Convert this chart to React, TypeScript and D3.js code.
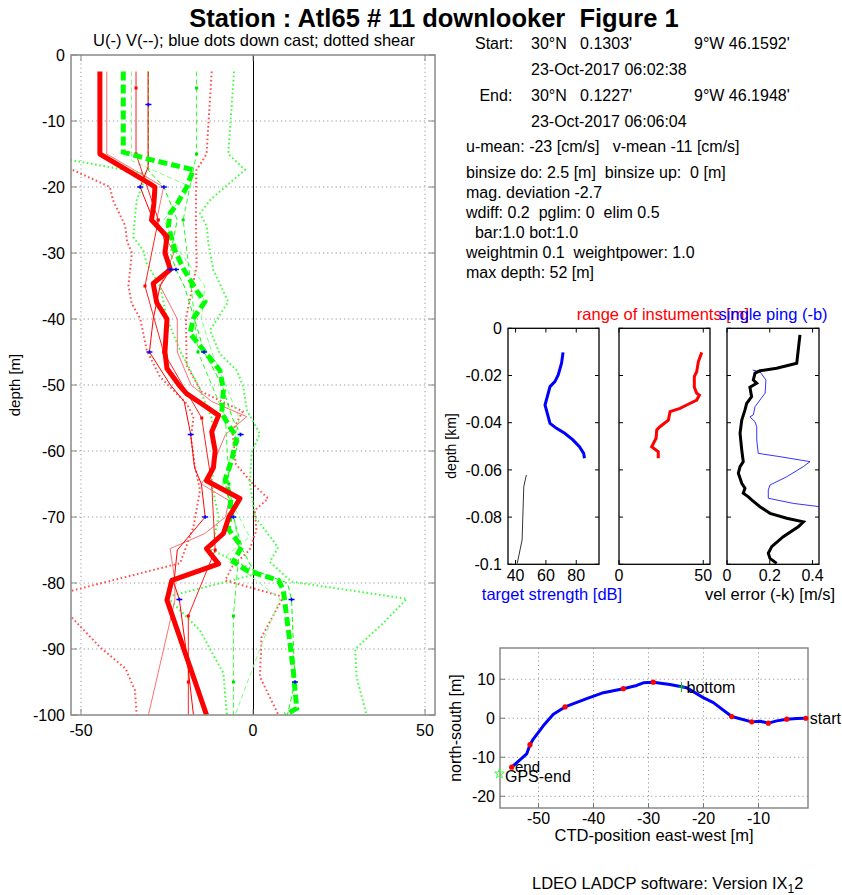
import React from "react";
import * as d3 from "d3";

type P = [number, number];

const FONT = "'Liberation Sans', Arial, Helvetica, sans-serif";

// ---- main profile panel: [depth m, velocity cm/s] ----
const uMean: P[] = [
  [-2.5, -44.5], [-15, -44.5], [-19.5, -30], [-20, -28.5], [-22.5, -28.8], [-25, -29.5],
  [-27.5, -25], [-30, -25.6], [-32.5, -24], [-34.6, -29], [-37.5, -28], [-40, -25],
  [-42.5, -25.3], [-45, -25.6], [-47.5, -25], [-50, -21.5], [-51.3, -19.3], [-53, -14.5],
  [-54.6, -10], [-57.1, -12], [-60, -11], [-62.5, -11.5], [-64.5, -13.5], [-67.2, -3.8],
  [-70, -7], [-72.5, -8.6], [-74.8, -13.5], [-77.1, -10], [-79.6, -23.6], [-82.6, -25],
  [-100, -13.5],
];
const vMean: P[] = [
  [-2.5, -37.7], [-14.7, -37.7], [-15.7, -31], [-17.4, -17.3], [-20, -19.3], [-22.5, -22],
  [-24, -24.1], [-26, -24.6], [-29.6, -22.7], [-32.4, -20.2], [-35.7, -16.4], [-37.4, -14],
  [-39.9, -17.3], [-42.2, -18.3], [-44.7, -14.4], [-47.8, -9.6], [-50.8, -8.6], [-54.3, -9.1],
  [-56.4, -6.7], [-57.9, -4.7], [-61.4, -6.2], [-64.4, -8.1], [-67.2, -6.5], [-70, -6.7],
  [-71.8, -7.2], [-74.5, -3.3], [-76.8, -5.7], [-78.1, -1.8], [-79.6, 7.4], [-81.1, 8.8],
  [-87.2, 10.3], [-93.2, 11.7], [-99, 12.7], [-100, 9.3],
];
const uDown: P[] = [
  [-2.5, -30.5], [-17, -30.5], [-20, -32.8], [-25, -29], [-27.5, -26], [-32.5, -24],
  [-35, -27], [-40, -29], [-45, -30.1], [-50, -24], [-52.5, -20], [-57.5, -18.1],
  [-62.5, -17], [-65, -15], [-70, -13.9], [-75, -22], [-80, -23], [-82.5, -21.4],
  [-90, -19.5], [-100, -17.3],
];
const vDown: P[] = [
  [-2.5, -30.4], [-7.5, -30.4], [-17.5, -30.4], [-20, -25.9], [-25, -22], [-30, -24],
  [-32.5, -22.4], [-35, -20], [-40, -17], [-45, -14.2], [-50, -9], [-55, -6], [-57.5, -3.6],
  [-60, -5], [-65, -8], [-70, -5.7], [-75, -3], [-78, 0], [-80, 10], [-82.5, 11.2],
  [-95, 12.2], [-100, 10],
];
const uUp: P[] = [
  [-2.5, -42.5], [-15, -42.5], [-20, -26], [-25, -28], [-30, -23], [-35, -27], [-40, -22],
  [-45, -22], [-50, -18], [-52.5, -12], [-54.8, -1.8], [-57.5, -8], [-62.5, -12], [-65, -15],
  [-67.5, -7], [-70, -8], [-72.5, -14], [-74.8, -24.1], [-79.6, -22.7], [-82.6, -22.7],
  [-100, -30.4],
];
const vUp: P[] = [
  [-2.5, -35.3], [-16, -35.3], [-20, -18], [-25, -26], [-30, -21], [-35, -14], [-40, -15],
  [-45, -12], [-50, -8], [-55, -4], [-60, -6], [-65, -9], [-70, -4], [-73, -1], [-76, -8],
  [-82.4, 7.8], [-90, 2], [-100, -5.2],
];
// bottom-track style profiles, one marker every 10 m
const uBT: P[] = [
  [-2.5, -34], [-5, -34], [-15, -34], [-25, -27.5], [-35, -31.4], [-45, -26], [-55, -14.9],
  [-65, -12], [-75, -11], [-85, -18.8], [-95, -18.8], [-100, -18.8],
];
const vBT: P[] = [
  [-2.5, -16.4], [-5, -16.4], [-15, -16.4], [-25, -20.3], [-35, -18], [-45, -16], [-55, -8],
  [-65, -7], [-75, -4], [-85, -5.7], [-95, -5.7], [-100, -5.7],
];
// shear solutions (dotted)
const uShA: P[] = [
  [-2.5, -12], [-15, -13.5], [-17.5, -16.5], [-25, -16.6], [-32, -16.4], [-40, -19.5],
  [-47, -19.3], [-51, -15], [-54, -3], [-57, -6], [-62, -5], [-65, 0], [-67.2, 4.4],
  [-69, 0.5], [-72, 1], [-75, -1], [-77.5, -6], [-79.6, -8.1], [-82.1, 8.8], [-88.2, 2.5],
  [-94.2, 2], [-100, 7.4],
];
const uShB: P[] = [
  [-2.5, -75], [-15, -70], [-17.3, -52.9], [-20, -41.6], [-22, -40.7], [-25.8, -37.2],
  [-28.2, -36.6], [-30, -35.2], [-34.9, -36.2], [-37.6, -35.3], [-39.9, -32.8], [-44.7, -30.9],
  [-48.8, -27], [-52.8, -19.3], [-54.8, -17.3], [-58, -18], [-62, -17], [-65.9, -15.4],
  [-71.5, -17.3], [-77, -21.2], [-81.1, -52.2], [-83, -62], [-85.2, -52.7], [-89.7, -44.5],
  [-93, -37], [-96.3, -34.3], [-100, -33.8],
];
const vShA: P[] = [
  [-2.5, -5.5], [-15, -7.2], [-17.4, -2.3], [-20, -8.1], [-22, -12.5], [-24, -15.4],
  [-26, -13.4], [-28.5, -13], [-32.6, -11.5], [-37.4, -7.2], [-41.7, -12.5], [-45.3, -9.6],
  [-47.8, -4.7], [-50.3, -2.8], [-53.8, -1.8], [-57.4, 2], [-60.2, -0.4], [-64.9, -0.9],
  [-70, 0.6], [-74.6, 7.3], [-76.8, 4.9], [-79.8, 11.2], [-82.4, 44.7], [-86, 38],
  [-90, 29.7], [-94.2, 30.1], [-100, 33],
];
const vShB: P[] = [
  [-2.5, -80], [-14, -70], [-16, -52.2], [-18, -30.9], [-22, -33.8], [-24.5, -34.3],
  [-27.6, -34.8], [-29.6, -31.9], [-31.6, -30.9], [-35, -27], [-40, -25], [-45, -21],
  [-50, -16], [-55, -12], [-60, -11], [-65, -12], [-70, -10], [-75, -12], [-78.5, 2],
  [-82.1, -25], [-87.2, -15.4], [-93.7, -8.6], [-100, -7.6],
];
const downDots: P[] = [
  [-7.5, -30.4], [-20, -32.8], [-20, -25.9], [-32.5, -24], [-32.5, -22.4], [-45, -30.1],
  [-45, -14.2], [-57.5, -18.1], [-57.5, -3.6], [-70, -13.9], [-70, -5.7], [-82.5, -21.4],
  [-82.5, 11.2], [-95, 12.2],
];
const depthTicks = [0, -10, -20, -30, -40, -50, -60, -70, -80, -90, -100];
const velTicks = [-50, 0, 50];

// ---- small panels: [depth km, value] ----
const targetStrength: P[] = [
  [-0.0102, 71.3], [-0.0148, 70.3], [-0.0198, 68.1], [-0.0226, 65.9], [-0.0247, 62.7],
  [-0.029, 60.9], [-0.0325, 59.4], [-0.036, 60.9], [-0.0403, 62.7], [-0.0424, 67],
  [-0.0445, 72.4], [-0.0473, 77.8], [-0.0502, 82.1], [-0.053, 84.9], [-0.0551, 85.4],
];
const targetDeep: P[] = [[-0.0622, 47.1], [-0.0671, 45.4], [-0.0897, 44.3], [-0.0996, 41.1]];
const instRange: P[] = [
  [-0.0102, 49.1], [-0.0141, 47.1], [-0.0184, 46.1], [-0.0205, 44.7], [-0.025, 44.7],
  [-0.0275, 46.1], [-0.0283, 47.7], [-0.0304, 46.1], [-0.0325, 40.2], [-0.0339, 36.2],
  [-0.0353, 30.3], [-0.0389, 29.3], [-0.0417, 24.3], [-0.0431, 22.4], [-0.0466, 22],
  [-0.0502, 19.4], [-0.0523, 23.3], [-0.0551, 23.3],
];
const velError: P[] = [
  [-0.0028, 0.341], [-0.0092, 0.333], [-0.0148, 0.326], [-0.0169, 0.232], [-0.018, 0.154],
  [-0.019, 0.131], [-0.0219, 0.123], [-0.0233, 0.139], [-0.025, 0.107], [-0.029, 0.115],
  [-0.0318, 0.092], [-0.0346, 0.084], [-0.0389, 0.069], [-0.0445, 0.061], [-0.0516, 0.069],
  [-0.0565, 0.076], [-0.0586, 0.061], [-0.0614, 0.053], [-0.0657, 0.069], [-0.0678, 0.084],
  [-0.0699, 0.076], [-0.0714, 0.1], [-0.0727, 0.115], [-0.0756, 0.154], [-0.0784, 0.201],
  [-0.0805, 0.279], [-0.082, 0.357], [-0.0841, 0.333], [-0.0883, 0.263], [-0.0925, 0.209],
  [-0.0953, 0.193], [-0.0975, 0.201], [-0.0996, 0.232],
];
const singlePing: P[] = [
  [-0.0177, 0.12], [-0.0184, 0.154], [-0.0219, 0.182], [-0.0275, 0.178], [-0.0304, 0.154],
  [-0.0332, 0.131], [-0.0367, 0.123], [-0.0375, 0.107], [-0.0396, 0.131], [-0.0417, 0.139],
  [-0.0473, 0.139], [-0.053, 0.146], [-0.0544, 0.248], [-0.0565, 0.388], [-0.0586, 0.357],
  [-0.0629, 0.279], [-0.0664, 0.201], [-0.0685, 0.193], [-0.072, 0.193], [-0.0742, 0.31],
  [-0.0756, 0.434],
];
const kmTicks = [0, -0.02, -0.04, -0.06, -0.08, -0.1];
const tsTicks = [40, 60, 80];
const rangeTicks = [0, 50];
const errTicks = [0, 0.2, 0.4];

// ---- CTD position: [east m, north m] ----
const track: P[] = [
  [-1.4, 0], [-3.05, -0.07], [-4.87, -0.24], [-6.69, -0.67], [-8.2, -1.26], [-9.73, -0.75],
  [-11.24, -0.93], [-14.87, 0.44], [-18.2, 4.0], [-20.04, 5.28], [-23.05, 7.82], [-26.1, 8.66],
  [-29.13, 9.25], [-30.95, 9.09], [-32.15, 8.41], [-34.58, 7.57], [-38.2, 6.55], [-41.24, 5.02],
  [-45.18, 2.89], [-47.3, 1.03], [-49.13, -1.95], [-50.95, -5.33], [-51.55, -6.78],
  [-52.15, -9.15], [-54.87, -12.53],
];
const trackDots: P[] = [
  [-1.4, 0], [-4.87, -0.24], [-8.2, -1.26], [-11.24, -0.93], [-14.87, 0.44], [-29.13, 9.25],
  [-34.58, 7.57], [-45.18, 2.89], [-51.55, -6.78], [-54.87, -12.53],
];
const bottomPos: P = [-24.0, 8.0];
const gpsEnd: P = [-57.1, -14.2];
const eastTicks = [-50, -40, -30, -20, -10];
const northTicks = [10, 0, -10, -20];

// ---- text block ----
const posRows = [
  { label: "Start:", lat: "30°N   0.1303'", lon: "9°W 46.1592'", time: "23-Oct-2017 06:02:38" },
  { label: " End:", lat: "30°N   0.1227'", lon: "9°W 46.1948'", time: "23-Oct-2017 06:06:04" },
];
const infoLines = [
  "u-mean: -23 [cm/s]   v-mean -11 [cm/s]",
  "binsize do: 2.5 [m]  binsize up:  0 [m]",
  "mag. deviation -2.7",
  "wdiff: 0.2  pglim: 0  elim 0.5",
  "  bar:1.0 bot:1.0",
  "weightmin 0.1  weightpower: 1.0",
  "max depth: 52 [m]",
];
const infoY = [152, 178, 198, 218, 238, 258, 278];

const pre = { whiteSpace: "pre" as const };

export default function App() {
  // main panel scales
  const xM = d3.scaleLinear().domain([-52.9, 52.9]).range([71, 435]);
  const yM = d3.scaleLinear().domain([0, -100]).range([55, 715]);
  const mLine = d3.line<P>().x((p) => xM(p[1])).y((p) => yM(p[0]));

  // small panels
  const yS = d3.scaleLinear().domain([0, -0.1]).range([328.3, 564.3]);
  const x1 = d3.scaleLinear().domain([35, 95]).range([508, 599]);
  const x2 = d3.scaleLinear().domain([0, 54]).range([619, 710]);
  const x3 = d3.scaleLinear().domain([0, 0.43]).range([727, 819]);
  const sLine = (xs: d3.ScaleLinear<number, number>) =>
    d3.line<P>().x((p) => xs(p[1])).y((p) => yS(p[0]));

  // position panel
  const xP = d3.scaleLinear().domain([-57, -1]).range([500, 808]);
  const yP = d3.scaleLinear().domain([-23, 18]).range([808, 648]);
  const pLine = d3.line<P>().x((p) => xP(p[0])).y((p) => yP(p[1]));

  const dotted = "1.6,2.6";
  const series = [
    { d: uShB, c: "#ff5050", w: 2, dash: dotted },
    { d: vShB, c: "#40ff40", w: 2, dash: dotted },
    { d: uShA, c: "#ff5050", w: 2, dash: dotted },
    { d: vShA, c: "#40ff40", w: 2, dash: dotted },
    { d: vUp, c: "#80ff80", w: 1, dash: "5,3" },
    { d: vBT, c: "#30ff30", w: 1, dash: "5,3" },
    { d: vDown, c: "#00ff00", w: 1, dash: "5,3" },
    { d: uUp, c: "#ff7070", w: 1, dash: undefined },
    { d: uBT, c: "#ff2020", w: 1, dash: undefined },
    { d: uDown, c: "#ff0000", w: 1, dash: undefined },
  ];

  const smallPanels = [
    { xs: x1, ticks: tsTicks },
    { xs: x2, ticks: rangeTicks },
    { xs: x3, ticks: errTicks },
  ];

  const zeroX = Math.round(xM(0)) + 0.5;

  return (
    <svg
      width={842}
      height={895}
      style={{ position: "absolute", left: 0, top: 0, background: "#fff" }}
      fontFamily={FONT}
    >
      <rect width={842} height={895} fill="#fff" />
      <defs>
        <clipPath id="mainClip">
          <rect x={71} y={55} width={364} height={660} />
        </clipPath>
        <clipPath id="p3Clip">
          <rect x={727} y={328} width={92} height={237} />
        </clipPath>
      </defs>

      {/* title */}
      <text x={434} y={27} textAnchor="middle" fontSize={25.5} fontWeight="bold" style={pre} xmlSpace="preserve">
        Station : Atl65 # 11 downlooker  Figure 1
      </text>
      <text x={254} y={46} textAnchor="middle" fontSize={16.5}>
        U(-) V(--); blue dots down cast; dotted shear
      </text>

      {/* ---------- main panel ---------- */}
      {depthTicks.slice(1, -1).map((t) => (
        <line key={"g" + t} x1={71} x2={435} y1={yM(t)} y2={yM(t)} stroke="#999" strokeDasharray="1.2,3" />
      ))}
      {velTicks.filter((t) => t !== 0).map((t) => (
        <line key={"gv" + t} x1={xM(t)} x2={xM(t)} y1={55} y2={715} stroke="#999" strokeDasharray="1.2,3" />
      ))}
      <line x1={zeroX} x2={zeroX} y1={55} y2={715} stroke="#000" strokeWidth={1} />
      <g clipPath="url(#mainClip)" fill="none">
        {series.map((s, i) => (
          <path key={i} d={mLine(s.d) || ""} stroke={s.c} strokeWidth={s.w} strokeDasharray={s.dash} />
        ))}
        {uBT.slice(1, -1).map((p, i) => (
          <rect key={"bu" + i} x={xM(p[1]) - 1.5} y={yM(p[0]) - 1.5} width={3} height={3} fill="#ff0000" />
        ))}
        {vBT.slice(1, -1).map((p, i) => (
          <rect key={"bv" + i} x={xM(p[1]) - 1.5} y={yM(p[0]) - 1.5} width={3} height={3} fill="#00e000" />
        ))}
        <path d={mLine(vMean) || ""} stroke="#00ff00" strokeWidth={5} strokeDasharray="9,4" />
        <path d={mLine(uMean) || ""} stroke="#ff0000" strokeWidth={5} strokeLinejoin="round" />
        {downDots.map((p, i) => (
          <path
            key={"dd" + i}
            transform={`translate(${xM(p[1])},${yM(p[0])})`}
            d="M-3,0H3M0,-1.8V1.8"
            stroke="#0000ff"
            strokeWidth={1.6}
          />
        ))}
      </g>
      <rect x={71} y={55} width={364} height={660} fill="none" stroke="#888" strokeWidth={1.5} />
      {depthTicks.map((t) => (
        <g key={"t" + t}>
          <line x1={71} x2={77} y1={yM(t)} y2={yM(t)} stroke="#888" />
          <line x1={429} x2={435} y1={yM(t)} y2={yM(t)} stroke="#888" />
          <text x={65} y={yM(t)} dy="0.35em" textAnchor="end" fontSize={16}>
            {t}
          </text>
        </g>
      ))}
      {velTicks.map((t) => (
        <g key={"vt" + t}>
          <line x1={xM(t)} x2={xM(t)} y1={715} y2={709} stroke="#888" />
          <line x1={xM(t)} x2={xM(t)} y1={55} y2={61} stroke="#888" />
          <text x={xM(t)} y={736} textAnchor="middle" fontSize={16}>
            {t}
          </text>
        </g>
      ))}
      <text transform="translate(20,385) rotate(-90)" textAnchor="middle" fontSize={15}>
        depth [m]
      </text>

      {/* ---------- info text ---------- */}
      {posRows.map((r, i) => (
        <g key={"pr" + i} fontSize={16}>
          <text x={475} y={49 + i * 52} style={pre} xmlSpace="preserve">{r.label}</text>
          <text x={531} y={49 + i * 52} style={pre} xmlSpace="preserve">{r.lat}</text>
          <text x={694} y={49 + i * 52} style={pre} xmlSpace="preserve">{r.lon}</text>
          <text x={531} y={75 + i * 52} style={pre} xmlSpace="preserve">{r.time}</text>
        </g>
      ))}
      {infoLines.map((t, i) => (
        <text key={"il" + i} x={466} y={infoY[i]} fontSize={16} style={pre} xmlSpace="preserve">
          {t}
        </text>
      ))}

      {/* ---------- small panels ---------- */}
      <text x={663} y={320} textAnchor="middle" fontSize={16.5} fill="#ff0000">
        range of instuments [m]
      </text>
      <text x={773} y={320} textAnchor="middle" fontSize={16.5} fill="#0000ff">
        single ping (-b)
      </text>
      {smallPanels.map((sp, i) => {
        const [a, b] = sp.xs.range();
        return (
          <g key={"sp" + i}>
            <rect x={a} y={328.3} width={b - a} height={236} fill="none" stroke="#000" strokeWidth={1.3} />
            {kmTicks.map((t) => (
              <g key={t}>
                <line x1={a} x2={a + 4} y1={yS(t)} y2={yS(t)} stroke="#000" />
                <line x1={b - 4} x2={b} y1={yS(t)} y2={yS(t)} stroke="#000" />
              </g>
            ))}
            {sp.ticks.map((t) => (
              <g key={"x" + t}>
                <line x1={sp.xs(t)} x2={sp.xs(t)} y1={564.3} y2={560} stroke="#000" />
                <line x1={sp.xs(t)} x2={sp.xs(t)} y1={328.3} y2={332.5} stroke="#000" />
                <text x={sp.xs(t)} y={581} textAnchor="middle" fontSize={16}>
                  {t}
                </text>
              </g>
            ))}
          </g>
        );
      })}
      {kmTicks.map((t) => (
        <text key={"km" + t} x={502} y={yS(t)} dy="0.35em" textAnchor="end" fontSize={16}>
          {t}
        </text>
      ))}
      <text transform="translate(456,446) rotate(-90)" textAnchor="middle" fontSize={14}>
        depth [km]
      </text>
      <path d={sLine(x1)(targetStrength) || ""} fill="none" stroke="#0000ff" strokeWidth={3} />
      <path d={sLine(x1)(targetDeep) || ""} fill="none" stroke="#000" strokeWidth={0.8} />
      <path d={sLine(x2)(instRange) || ""} fill="none" stroke="#ff0000" strokeWidth={3} />
      <g clipPath="url(#p3Clip)" fill="none">
        <path d={sLine(x3)(singlePing) || ""} stroke="#0000ff" strokeWidth={0.8} />
        <path d={sLine(x3)(velError) || ""} stroke="#000" strokeWidth={3} />
      </g>
      <text x={552} y={600} textAnchor="middle" fontSize={16.5} fill="#0000ff">
        target strength [dB]
      </text>
      <text x={770} y={600} textAnchor="middle" fontSize={16.5}>
        vel error (-k) [m/s]
      </text>

      {/* ---------- position panel ---------- */}
      {eastTicks.map((t) => (
        <line key={"pe" + t} x1={xP(t)} x2={xP(t)} y1={648} y2={808} stroke="#999" strokeDasharray="1.2,3" />
      ))}
      {northTicks.map((t) => (
        <line key={"pn" + t} x1={500} x2={808} y1={yP(t)} y2={yP(t)} stroke="#999" strokeDasharray="1.2,3" />
      ))}
      <rect x={500} y={648} width={308} height={160} fill="none" stroke="#777" strokeWidth={1.3} />
      {eastTicks.map((t) => (
        <g key={"pet" + t}>
          <line x1={xP(t)} x2={xP(t)} y1={808} y2={803} stroke="#777" />
          <text x={xP(t)} y={824} textAnchor="middle" fontSize={16}>
            {t}
          </text>
        </g>
      ))}
      {northTicks.map((t) => (
        <g key={"pnt" + t}>
          <line x1={500} x2={505} y1={yP(t)} y2={yP(t)} stroke="#777" />
          <text x={495} y={yP(t)} dy="0.35em" textAnchor="end" fontSize={16}>
            {t}
          </text>
        </g>
      ))}
      <path d={pLine(track) || ""} fill="none" stroke="#0000ff" strokeWidth={3} strokeLinejoin="round" />
      {trackDots.map((p, i) => (
        <circle key={"td" + i} cx={xP(p[0])} cy={yP(p[1])} r={2.6} fill="#ff0000" />
      ))}
      <path
        transform={`translate(${xP(bottomPos[0])},${yP(bottomPos[1])})`}
        d="M0,-5V5M-3,0H3"
        stroke="#00cc00"
        strokeWidth={1}
      />
      <path
        transform={`translate(${xP(gpsEnd[0])},${yP(gpsEnd[1])})`}
        d={d3.symbol(d3.symbolStar, 30)() || ""}
        fill="none"
        stroke="#40ff40"
        strokeWidth={1}
      />
      <text x={xP(bottomPos[0]) + 5} y={yP(bottomPos[1])} dy="0.35em" fontSize={16}>
        bottom
      </text>
      <text x={xP(track[0][0]) + 4} y={yP(track[0][1])} dy="0.35em" fontSize={16}>
        start
      </text>
      <text x={515} y={767} dy="0.35em" fontSize={15}>
        end
      </text>
      <text x={505} y={776} dy="0.35em" fontSize={16}>
        GPS-end
      </text>
      <text x={654} y={841} textAnchor="middle" fontSize={16.5}>
        CTD-position east-west [m]
      </text>
      <text transform="translate(461,728) rotate(-90)" textAnchor="middle" fontSize={16}>
        north-south [m]
      </text>

      {/* footer */}
      <text x={532} y={889} fontSize={16.5}>
        LDEO LADCP software: Version IX
        <tspan dy={4} fontSize={12}>1</tspan>
        <tspan dy={-4}>2</tspan>
      </text>
    </svg>
  );
}
